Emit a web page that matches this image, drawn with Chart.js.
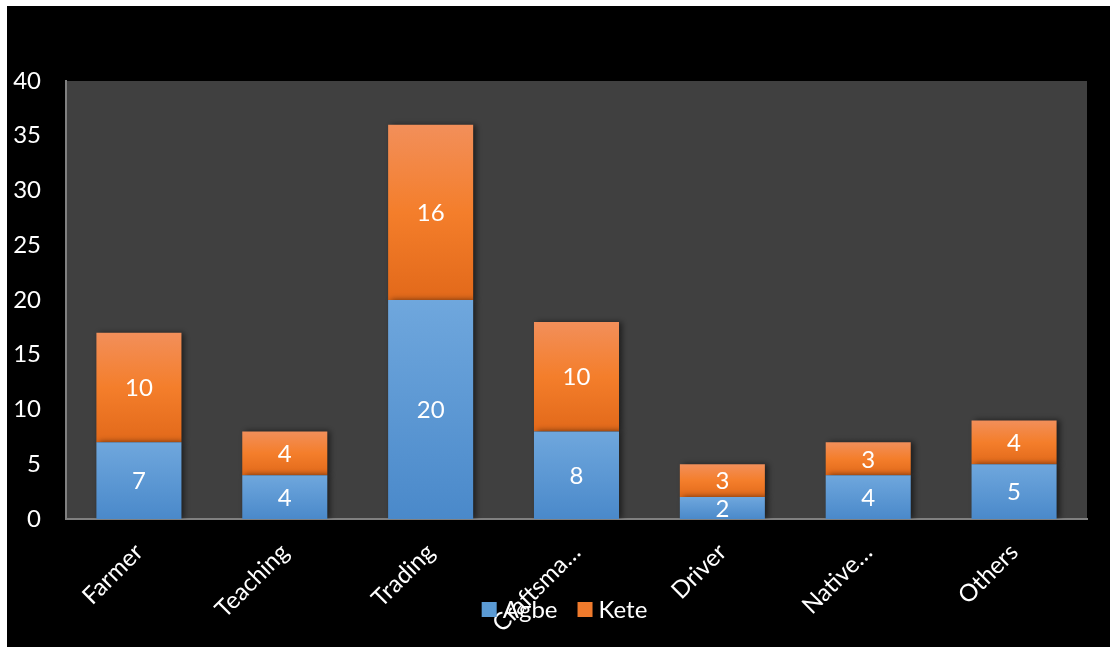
<!DOCTYPE html>
<html>
<head>
<meta charset="utf-8">
<script src="https://cdn.jsdelivr.net/npm/chart.js@4/dist/chart.umd.min.js"></script>
<style>
    html, body { margin: 0; padding: 0; background: #ffffff; }
    #wrap { position: absolute; left: 7px; top: 6px; width: 1103px; height: 641px; background: #000000; }
</style>
</head>
<body>
<div id="wrap"><canvas id="occChart" width="1103" height="641"></canvas></div>
<script>
// 1. 데이터
const categories = ['Farmer', 'Teaching', 'Trading', 'Craftsma…', 'Driver', 'Native…', 'Others'];
const agbeValues = [7, 4, 20, 8, 2, 4, 5];
const keteValues = [10, 4, 16, 10, 3, 3, 4];
const yTicks = [0, 5, 10, 15, 20, 25, 30, 35, 40];

const FONT = 'Lato, "Open Sans", sans-serif';
const FONT_SIZE = 24;

/**
 * 2. 막대 조각마다 위->아래 그라디언트
 */
function segmentGradient(stops, solid) {
    return (c) => {
        if (c.type !== 'data') return solid;
        const chart = c.chart;
        const y = chart.scales.y;
        if (!y || !chart.chartArea) return solid;
        const sets = chart.data.datasets;
        let base = 0;
        for (let i = 0; i < c.datasetIndex; i++) base += sets[i].data[c.dataIndex];
        const top = y.getPixelForValue(base + sets[c.datasetIndex].data[c.dataIndex]);
        const bottom = y.getPixelForValue(base);
        if (!isFinite(top) || !isFinite(bottom) || top === bottom) return solid;
        const g = chart.ctx.createLinearGradient(0, top, 0, bottom);
        stops.forEach(([p, col]) => g.addColorStop(p, col));
        return g;
    };
}

// 플롯 배경 + 막대 그림자
const plotBg = {
    id: 'plotBg',
    beforeDraw(chart) {
        const { ctx, chartArea: a } = chart;
        ctx.save();
        ctx.fillStyle = '#404040';
        ctx.fillRect(a.left, a.top, a.right - a.left, a.bottom - a.top);
        ctx.restore();
    },
    beforeDatasetsDraw(chart) {
        const ctx = chart.ctx;
        ctx.save();
        ctx.shadowColor = 'rgba(0, 0, 0, 0.55)';
        ctx.shadowBlur = 6;
        ctx.shadowOffsetX = 3;
        ctx.shadowOffsetY = 0;
    },
    afterDatasetsDraw(chart) {
        chart.ctx.restore();
    }
};

// 막대 가운데 값 표시
const valueLabels = {
    id: 'valueLabels',
    afterDatasetsDraw(chart) {
        const ctx = chart.ctx;
        ctx.save();
        ctx.fillStyle = '#ffffff';
        ctx.font = FONT_SIZE + 'px ' + FONT;
        ctx.textAlign = 'center';
        ctx.textBaseline = 'middle';
        chart.data.datasets.forEach((ds, i) => {
            chart.getDatasetMeta(i).data.forEach((bar, j) => {
                ctx.fillText(String(ds.data[j]), bar.x, (bar.y + bar.base) / 2 + 1);
            });
        });
        ctx.restore();
    }
};

// 범례: x축 라벨 위에 겹쳐 그림 (원본처럼)
const overlapLegend = {
    id: 'overlapLegend',
    afterDraw(chart) {
        const ctx = chart.ctx;
        const box = 15, gap = 6, itemGap = 20;
        const cy = 603.5;
        ctx.save();
        ctx.font = FONT_SIZE + 'px ' + FONT;
        const items = chart.data.datasets.map(ds => ({
            text: ds.label, color: ds.legendColor, w: ctx.measureText(ds.label).width
        }));
        const total = items.reduce((s, it) => s + box + gap + it.w, 0) + itemGap * (items.length - 1);
        let x = chart.width / 2 + 6 - total / 2;
        ctx.textBaseline = 'middle';
        ctx.textAlign = 'left';
        items.forEach(it => {
            ctx.fillStyle = it.color;
            ctx.fillRect(x, cy - box / 2, box, box);
            ctx.fillStyle = '#ffffff';
            ctx.fillText(it.text, x + box + gap, cy + 1);
            x += box + gap + it.w + itemGap;
        });
        ctx.restore();
    }
};

new Chart(document.getElementById('occChart'), {
    type: 'bar',
    data: {
        labels: categories,
        datasets: [
            {
                label: 'Agbe',
                data: agbeValues,
                legendColor: '#5b9bd5',
                backgroundColor: segmentGradient([[0, '#6fa7dd'], [1, '#4a89ca']], '#5b9bd5'),
                borderWidth: 0,
                categoryPercentage: 1,
                barPercentage: 0.583
            },
            {
                label: 'Kete',
                data: keteValues,
                legendColor: '#ef7a2c',
                backgroundColor: segmentGradient([[0, '#f28f5a'], [0.5, '#f47e2b'], [1, '#e2691a']], '#ed7d31'),
                borderWidth: 0,
                categoryPercentage: 1,
                barPercentage: 0.583
            }
        ]
    },
    options: {
        responsive: false,
        animation: false,
        layout: { padding: { top: 75, right: 23, left: 0, bottom: 0 } },
        scales: {
            x: {
                stacked: true,
                grid: { display: false, drawTicks: false },
                border: { display: true, color: '#808080', width: 2 },
                ticks: {
                    color: '#ffffff',
                    font: { family: FONT, size: FONT_SIZE },
                    minRotation: 45,
                    maxRotation: 45,
                    autoSkip: false,
                    padding: 19
                },
                afterFit: (s) => { s.height = 128; }
            },
            y: {
                stacked: true,
                min: 0,
                max: 40,
                grid: { display: false, drawTicks: false },
                border: { display: true, color: '#808080', width: 2 },
                afterBuildTicks: (s) => { s.ticks = yTicks.map(v => ({ value: v })); },
                ticks: {
                    color: '#ffffff',
                    font: { family: FONT, size: FONT_SIZE },
                    padding: 25
                },
                afterFit: (s) => { s.width = 59; }
            }
        },
        plugins: {
            legend: { display: false },
            tooltip: { enabled: false }
        }
    },
    plugins: [plotBg, valueLabels, overlapLegend]
});
</script>
</body>
</html>
